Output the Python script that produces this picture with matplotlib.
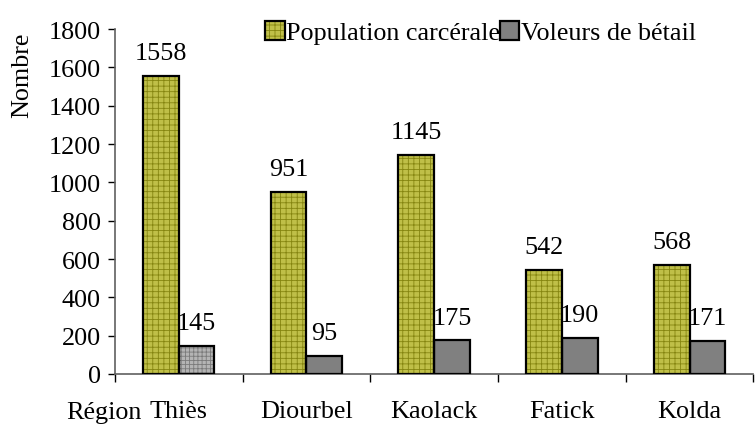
import numpy as np
import matplotlib
matplotlib.use('Agg')
import matplotlib.pyplot as plt
from matplotlib.patches import Patch

plt.rcParams['font.family'] = ['Liberation Serif', 'DejaVu Serif']
plt.rcParams['hatch.linewidth'] = 0.6

regions = ["Thiès", "Diourbel", "Kaolack", "Fatick", "Kolda"]
population = [1558, 951, 1145, 542, 568]
voleurs = [145, 95, 175, 190, 171]

fs = 18.8
yellow = "#bfbf48"
olive = "#858510"
grey = "#808080"

fig = plt.figure(figsize=(7.55, 4.31), dpi=100)
ax = fig.add_axes([0.152, 0.130, 0.846, 0.800])

x = np.arange(len(regions))
w = 0.28

# hatched fill first, black outline on top
ax.bar(x - w / 2, population, w, color=yellow, hatch="+++", edgecolor=olive, linewidth=0, zorder=2)
ax.bar(x - w / 2, population, w, facecolor="none", edgecolor="black", linewidth=1.6, zorder=3)

vol_face = ["#b4b4b4"] + [grey] * (len(regions) - 1)
vol_hatch = ["++++"] + [None] * (len(regions) - 1)
for xi, v, fc, h in zip(x, voleurs, vol_face, vol_hatch):
    ax.bar(xi + w / 2, v, w, color=fc, hatch=h, edgecolor="#7a7a7a", linewidth=0, zorder=2)
ax.bar(x + w / 2, voleurs, w, facecolor="none", edgecolor="black", linewidth=1.6, zorder=3)

for xi, p, v in zip(x, population, voleurs):
    ax.text(xi - w / 2, p + 88, str(p), ha="center", va="baseline", fontsize=fs)
    ax.text(xi + w / 2, v + 88, str(v), ha="center", va="baseline", fontsize=fs)

ax.set_xlim(-0.5, len(regions) - 0.5)
ax.set_ylim(0, 1800)
ax.set_yticks(np.arange(0, 1801, 200))
ax.tick_params(axis="y", labelsize=fs, length=5, width=1, pad=5)

ax.set_xticks(x)
ax.set_xticklabels(regions, fontsize=fs)
ax.set_xticks(np.arange(-0.5, len(regions) - 0.4, 1.0), minor=True)
ax.tick_params(axis="x", which="major", length=0, pad=19)
ax.tick_params(axis="x", which="minor", length=6, width=1, direction="out")

for s in ["top", "right"]:
    ax.spines[s].set_visible(False)
for s in ["left", "bottom"]:
    ax.spines[s].set_color("#606060")
    ax.spines[s].set_linewidth(1.2)

fig.text(0.029, 0.826, "Nombre", rotation=90, ha="center", va="center", fontsize=fs)
fig.text(0.137, 0.042, "Région", ha="center", va="center", fontsize=fs)

h1 = (Patch(facecolor=yellow, hatch="+++", edgecolor=olive, linewidth=0),
      Patch(facecolor="none", edgecolor="black", linewidth=1.6))
h2 = (Patch(facecolor=grey, edgecolor="none"),
      Patch(facecolor="none", edgecolor="black", linewidth=1.6))
fig.legend([h1, h2], ["Population carcérale", "Voleurs de bétail"],
           loc="center left", bbox_to_anchor=(0.351, 0.922), ncol=2, frameon=False,
           fontsize=fs, handlelength=0.75, handleheight=0.75, handletextpad=0.05,
           columnspacing=0.0, borderpad=0, borderaxespad=0)

fig.savefig("out.png", dpi=100)
